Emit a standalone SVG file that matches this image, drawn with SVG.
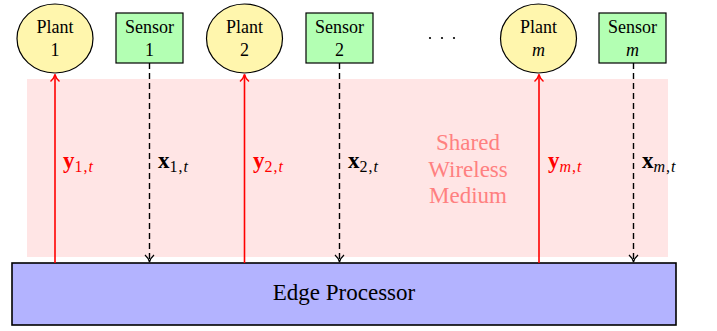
<svg xmlns="http://www.w3.org/2000/svg" width="717" height="331" viewBox="0 0 717 331">
<defs>
<style>
text{font-family:'Liberation Serif',serif}
.plant{fill:#fff6ad;stroke:#000;stroke-width:1.2}
.sensor{fill:#b3ffb3;stroke:#000;stroke-width:1.2}
.lbl{font-size:18px;fill:#000;text-anchor:middle}
.red{stroke:#ff0000;stroke-width:1.6;fill:none}
.dash{stroke:#000;stroke-width:1.4;stroke-dasharray:6,4;fill:none}
.math{font-size:23px}
.sub{font-size:16px;font-weight:normal;letter-spacing:1px}
.it{font-style:italic}
.big{font-size:23px;text-anchor:middle}
</style>
<marker id="ahr" markerWidth="12" markerHeight="12" refX="10" refY="6" orient="auto" markerUnits="userSpaceOnUse">
<path d="M3,1.5 Q6,5 10,6 Q6,7 3,10.5" fill="none" stroke="#ff0000" stroke-width="1.4"/>
</marker>
<marker id="ahk" markerWidth="12" markerHeight="12" refX="10" refY="6" orient="auto" markerUnits="userSpaceOnUse">
<path d="M3,1.5 Q6,5 10,6 Q6,7 3,10.5" fill="none" stroke="#000" stroke-width="1.3"/>
</marker>
</defs>
<rect id="medium" x="27" y="79" width="641" height="178" fill="#ffe5e5"/>
<g id="medium-label" fill="#ff8080">
<text class="big" x="468" y="150">Shared</text>
<text class="big" x="468" y="177">Wireless</text>
<text class="big" x="468" y="203">Medium</text>
</g>
<g id="plant1"><ellipse class="plant" cx="55" cy="38.5" rx="38" ry="34.5"/><text class="lbl" x="55" y="33">Plant</text><text class="lbl" x="55" y="56">1</text></g>
<g id="sensor1"><rect class="sensor" x="116" y="13" width="67" height="50"/><text class="lbl" x="149.5" y="33">Sensor</text><text class="lbl" x="149.5" y="56">1</text></g>
<g id="plant2"><ellipse class="plant" cx="244.5" cy="38.5" rx="38" ry="34.5"/><text class="lbl" x="244.5" y="33">Plant</text><text class="lbl" x="244.5" y="56">2</text></g>
<g id="sensor2"><rect class="sensor" x="306" y="13" width="67" height="50"/><text class="lbl" x="339.5" y="33">Sensor</text><text class="lbl" x="339.5" y="56">2</text></g>
<g id="dots" fill="#000"><circle cx="430" cy="38" r="1.1"/><circle cx="442" cy="38" r="1.1"/><circle cx="454" cy="38" r="1.1"/></g>
<g id="plantm"><ellipse class="plant" cx="538.5" cy="38.5" rx="38" ry="34.5"/><text class="lbl" x="538.5" y="33">Plant</text><text class="lbl it" x="538.5" y="56">m</text></g>
<g id="sensorm"><rect class="sensor" x="599" y="13" width="67" height="50"/><text class="lbl" x="632.5" y="33">Sensor</text><text class="lbl it" x="632.5" y="56">m</text></g>
<g id="edge"><rect x="12" y="263" width="664" height="62" fill="#b3b3ff" stroke="#000" stroke-width="1.6"/><text class="big" x="344" y="300" fill="#000" font-size="24">Edge Processor</text></g>
<g id="connectors">
<line class="red" x1="55" y1="263" x2="55" y2="74.5" marker-end="url(#ahr)"/>
<line class="red" x1="244.5" y1="263" x2="244.5" y2="74.5" marker-end="url(#ahr)"/>
<line class="red" x1="539" y1="263" x2="539" y2="74.5" marker-end="url(#ahr)"/>
<line class="dash" x1="149.5" y1="63" x2="149.5" y2="262" marker-end="url(#ahk)"/>
<line class="dash" x1="339.5" y1="63" x2="339.5" y2="262" marker-end="url(#ahk)"/>
<line class="dash" x1="633.5" y1="63" x2="633.5" y2="262" marker-end="url(#ahk)"/>
</g>
<g id="labels">
<text class="math" x="63" y="168" fill="#ff0000"><tspan font-weight="bold">y</tspan><tspan class="sub" dy="4">1,<tspan class="it">t</tspan></tspan></text>
<text class="math" x="158" y="168" fill="#000"><tspan font-weight="bold">x</tspan><tspan class="sub" dy="4">1,<tspan class="it">t</tspan></tspan></text>
<text class="math" x="253" y="168" fill="#ff0000"><tspan font-weight="bold">y</tspan><tspan class="sub" dy="4">2,<tspan class="it">t</tspan></tspan></text>
<text class="math" x="348" y="168" fill="#000"><tspan font-weight="bold">x</tspan><tspan class="sub" dy="4">2,<tspan class="it">t</tspan></tspan></text>
<text class="math" x="548" y="168" fill="#ff0000"><tspan font-weight="bold">y</tspan><tspan class="sub" dy="4"><tspan class="it">m</tspan>,<tspan class="it">t</tspan></tspan></text>
<text class="math" x="642" y="168" fill="#000"><tspan font-weight="bold">x</tspan><tspan class="sub" dy="4"><tspan class="it">m</tspan>,<tspan class="it">t</tspan></tspan></text>
</g>
</svg>
